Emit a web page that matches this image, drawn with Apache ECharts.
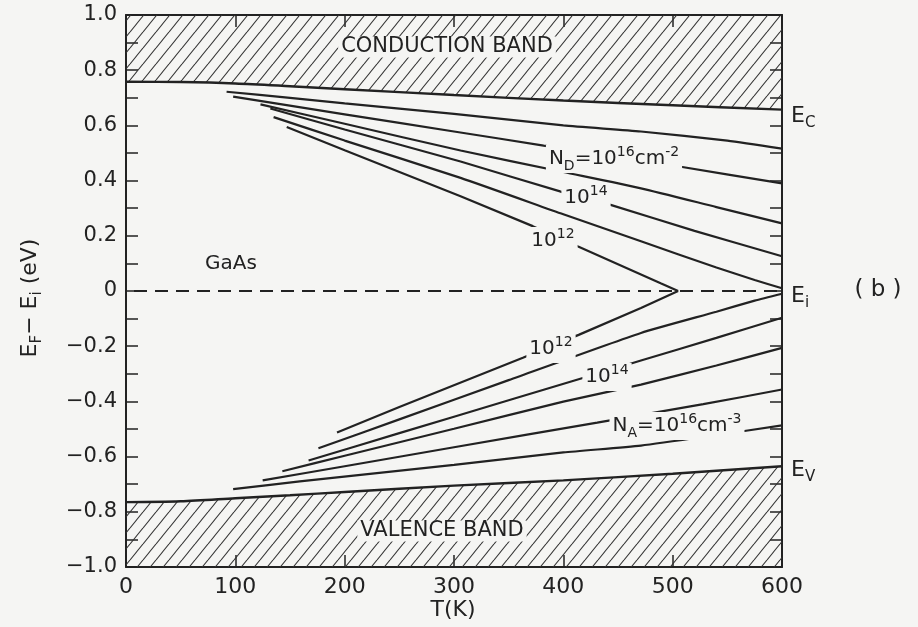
<!DOCTYPE html>
<html>
<head>
<meta charset="utf-8">
<script src="https://cdn.jsdelivr.net/npm/echarts@6/dist/echarts.min.js"></script>
<style>
  html, body { margin: 0; padding: 0; background: #f5f5f3; }
  #chart { width: 918px; height: 627px; }
</style>
</head>
<body>
<div id="chart"></div>
<script>
// band edges, E - Ei (eV) against T (K)
const bandT = [0, 50, 100, 150, 200, 300, 400, 500, 600]
const ecVals = [0.758, 0.757, 0.752, 0.742, 0.731, 0.71, 0.69, 0.673, 0.657]
const evVals = [-0.765, -0.762, -0.751, -0.74, -0.728, -0.705, -0.686, -0.662, -0.635]
const eiT = [0, 600]
const eiVals = [0, 0]

// n-type, N_D = 1e17 ... 1e12 cm-3
const nd17T = [92, 150, 200, 300, 400, 471, 550, 600]
const nd17E = [0.722, 0.70, 0.68, 0.642, 0.60, 0.578, 0.545, 0.516]
const nd16T = [98, 200, 300, 382, 450, 506, 600]
const nd16E = [0.704, 0.64, 0.578, 0.527, 0.487, 0.451, 0.39]
const nd15T = [123, 200, 306, 400, 471, 540, 600]
const nd15E = [0.676, 0.606, 0.509, 0.431, 0.372, 0.304, 0.245]
const nd14T = [132, 200, 306, 397, 444, 520, 600]
const nd14E = [0.661, 0.585, 0.469, 0.361, 0.311, 0.218, 0.126]
const nd13T = [135, 200, 306, 400, 471, 540, 575, 600]
const nd13E = [0.63, 0.545, 0.41, 0.278, 0.18, 0.085, 0.04, 0.01]
const nd12T = [147, 200, 306, 372, 413, 489, 505]
const nd12E = [0.594, 0.51, 0.343, 0.235, 0.162, 0.028, 0]

// p-type, N_A = 1e17 ... 1e12 cm-3
const na17T = [98, 159, 300, 400, 471, 540, 600]
const na17E = [-0.718, -0.69, -0.63, -0.585, -0.56, -0.522, -0.487]
const na16T = [125, 200, 300, 431, 528, 600]
const na16E = [-0.686, -0.635, -0.566, -0.477, -0.41, -0.357]
const na15T = [143, 200, 300, 400, 471, 540, 600]
const na15E = [-0.653, -0.597, -0.499, -0.401, -0.339, -0.27, -0.206]
const na14T = [167, 250, 350, 414, 471, 540, 600]
const na14E = [-0.614, -0.515, -0.396, -0.32, -0.252, -0.17, -0.097]
const na13T = [176, 250, 350, 471, 540, 575, 600]
const na13E = [-0.57, -0.465, -0.323, -0.152, -0.075, -0.035, -0.01]
const na12T = [193, 250, 363, 414, 471, 505]
const na12E = [-0.513, -0.42, -0.242, -0.159, -0.062, 0]

const FONT = 'DejaVu Sans'
const INK = '#222'
const BG = '#f5f5f3'

const pairs = (t, v) => t.map((x, i) => [x, v[i]])

// diagonal hatch tile
const hatch = document.createElement('canvas')
const hw = 13, hh = 16
hatch.width = hw
hatch.height = hh
const hctx = hatch.getContext('2d')
hctx.strokeStyle = '#333'
hctx.lineWidth = 1.1
for (let k = -1; k <= 1; k++) {
  hctx.beginPath()
  hctx.moveTo(k * hw, hh)
  hctx.lineTo(k * hw + hw, 0)
  hctx.stroke()
}

const fermiLine = (t, v, smooth = 0.2) => ({
  type: 'line',
  data: pairs(t, v),
  showSymbol: false,
  smooth: smooth,
  lineStyle: { color: INK, width: 2.2 },
  z: 3
})

const rich = {
  m: { fontSize: 20, fontFamily: FONT, color: INK, lineHeight: 28 },
  sup: { fontSize: 14, fontFamily: FONT, color: INK, lineHeight: 14, verticalAlign: 'top' },
  sub: { fontSize: 14, fontFamily: FONT, color: INK, lineHeight: 14, verticalAlign: 'bottom' },
  big: { fontSize: 22, fontFamily: FONT, color: INK, lineHeight: 30 },
  bsub: { fontSize: 15, fontFamily: FONT, color: INK, lineHeight: 15, verticalAlign: 'bottom' }
}

const label = (x, y, text, opts = {}) => ({
  type: 'text',
  x: x,
  y: y,
  z: 50,
  rotation: opts.rotation || 0,
  style: {
    text: text,
    rich: rich,
    font: (opts.size || 20) + 'px ' + FONT,
    fill: INK,
    align: opts.align || 'center',
    verticalAlign: 'middle',
    backgroundColor: opts.bg ? BG : null,
    padding: opts.bg ? [0, 3] : 0
  }
})

const chart = echarts.init(document.getElementById('chart'))

const axisCommon = {
  axisLine: { onZero: false, lineStyle: { color: INK, width: 2 } },
  axisTick: { inside: true, length: 12, lineStyle: { color: INK, width: 1.5 } },
  splitLine: { show: false }
}

chart.setOption({
  backgroundColor: BG,
  animation: false,
  grid: { left: 126, right: 136, top: 15, bottom: 60 },
  xAxis: [
    {
      ...axisCommon,
      type: 'value', min: 0, max: 600, interval: 100,
      axisLabel: { color: INK, fontSize: 22, fontFamily: FONT, margin: 9 }
    },
    {
      ...axisCommon,
      type: 'value', position: 'top', min: 0, max: 600, interval: 100,
      axisLabel: { show: false }
    }
  ],
  yAxis: [
    {
      ...axisCommon,
      type: 'value', min: -1, max: 1, interval: 0.2,
      minorTick: { show: true, splitNumber: 2, length: 12, lineStyle: { color: INK, width: 1.5 } },
      minorSplitLine: { show: false },
      axisLabel: {
        color: INK, fontSize: 21, fontFamily: FONT, margin: 9,
        formatter: v => Math.abs(v) < 1e-9 ? '0' : (v < 0 ? '−' : '') + Math.abs(v).toFixed(1)
      }
    },
    {
      ...axisCommon,
      type: 'value', position: 'right', min: -1, max: 1, interval: 0.2,
      minorTick: { show: true, splitNumber: 2, length: 12, lineStyle: { color: INK, width: 1.5 } },
      minorSplitLine: { show: false },
      axisLabel: { show: false }
    }
  ],
  series: [
    {
      type: 'line',
      data: pairs(bandT, ecVals),
      showSymbol: false,
      smooth: 0.3,
      lineStyle: { color: INK, width: 2.4 },
      areaStyle: { origin: 'end', color: { image: hatch, repeat: 'repeat' }, opacity: 1 },
      z: 2
    },
    {
      type: 'line',
      data: pairs(bandT, evVals),
      showSymbol: false,
      smooth: 0.3,
      lineStyle: { color: INK, width: 2.4 },
      areaStyle: { origin: 'start', color: { image: hatch, repeat: 'repeat' }, opacity: 1 },
      z: 2
    },
    {
      type: 'line',
      data: pairs(eiT, eiVals),
      showSymbol: false,
      lineStyle: { color: INK, width: 1.8, type: [13, 8], dashOffset: -8 },
      z: 4
    },
    fermiLine(nd17T, nd17E),
    fermiLine(nd16T, nd16E),
    fermiLine(nd15T, nd15E),
    fermiLine(nd14T, nd14E),
    fermiLine(nd13T, nd13E),
    fermiLine(nd12T, nd12E, false),
    fermiLine(na17T, na17E),
    fermiLine(na16T, na16E),
    fermiLine(na15T, na15E),
    fermiLine(na14T, na14E),
    fermiLine(na13T, na13E),
    fermiLine(na12T, na12E, false)
  ],
  graphic: [
    label(447, 47, 'CONDUCTION BAND', { bg: true, size: 21 }),
    label(442, 531, 'VALENCE BAND', { bg: true, size: 21 }),
    label(231, 264, 'GaAs', { size: 20 }),
    label(878, 290, '( b )', { size: 23 }),
    label(791, 116, '{big|E}{bsub|C}', { align: 'left' }),
    label(791, 296, '{big|E}{bsub|i}', { align: 'left' }),
    label(791, 470, '{big|E}{bsub|V}', { align: 'left' }),
    label(614, 159, '{m|N}{sub|D}{m|=10}{sup|16}{m|cm}{sup|-2}', { bg: true }),
    label(586, 198, '{m|10}{sup|14}', { bg: true }),
    label(553, 241, '{m|10}{sup|12}', { bg: true }),
    label(551, 349, '{m|10}{sup|12}', { bg: true }),
    label(607, 377, '{m|10}{sup|14}', { bg: true }),
    label(677, 426, '{m|N}{sub|A}{m|=10}{sup|16}{m|cm}{sup|-3}', { bg: true }),
    label(30, 298, '{big|E}{bsub|F}{big|− E}{bsub|i}{big| (eV)}', { rotation: Math.PI / 2 }),
    label(453, 610, 'T(K)', { size: 22 })
  ]
})

window.addEventListener('resize', () => chart.resize())
</script>
</body>
</html>
